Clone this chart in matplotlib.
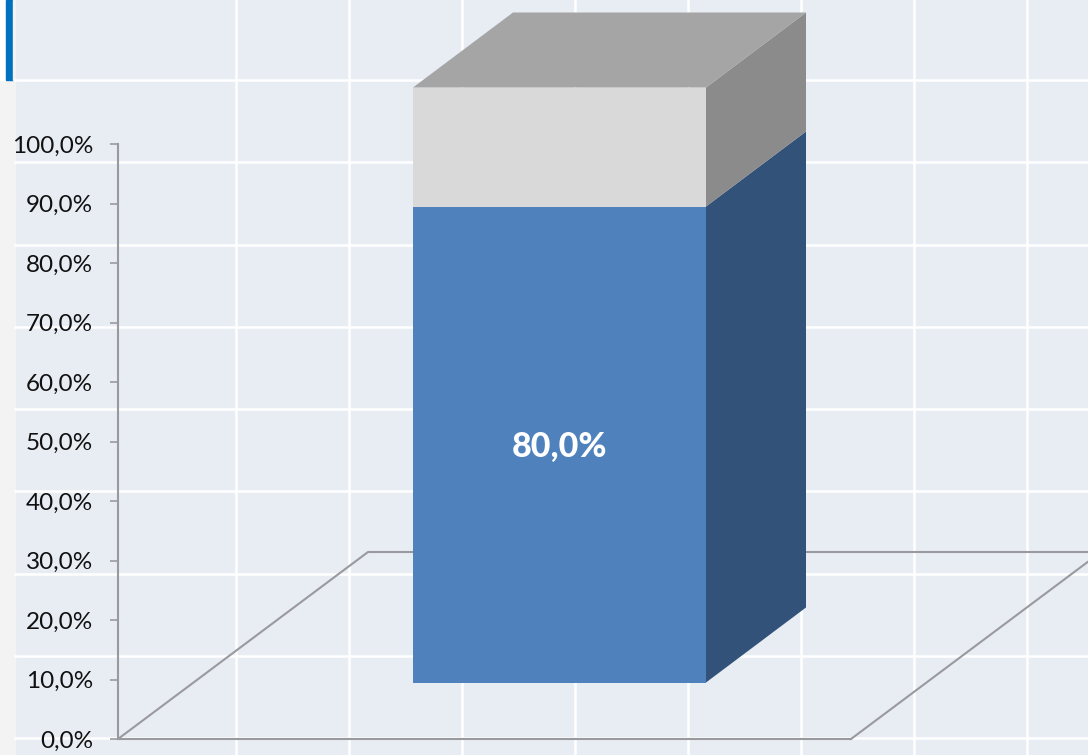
import matplotlib
matplotlib.use('Agg')
import matplotlib.pyplot as plt
from matplotlib.patches import Polygon, Rectangle

# values of the single stacked bar
share_blue = [80.0]
share_grey = [20.0]
tick_values = [0, 10, 20, 30, 40, 50, 60, 70, 80, 90, 100]
tick_labels = ['0,0%', '10,0%', '20,0%', '30,0%', '40,0%', '50,0%', '60,0%', '70,0%', '80,0%', '90,0%', '100,0%']

plt.rcParams['font.family'] = ['Lato', 'DejaVu Sans']

W, H = 1088, 755
PX = 5.95          # pixels per percent
Y0 = 739           # pixel row of 0%


def py(row):
    # pixel row to y axis value
    return (Y0 - row) / PX


fig = plt.figure(figsize=(W / 100, H / 100), dpi=100, facecolor='white')
ax = fig.add_axes([0, 0, 1, 1])
ax.set_xlim(0, W)
ax.set_ylim(py(H), py(0))
ax.set_facecolor('#E8EDF4')
ax.set_axisbelow(False)

# slide background
ax.add_patch(Rectangle((0, py(H)), 15, py(80) - py(H), color='#F3F3F3', zorder=1))
ax.add_patch(Rectangle((0, py(80)), 6, py(0) - py(80), color='white', zorder=1))
ax.add_patch(Rectangle((6, py(80)), 7, py(0) - py(80), color='#0070C0', zorder=1))
ax.add_patch(Rectangle((13, py(80)), 2, py(0) - py(80), color='#F3F3F3', zorder=1))

# white table lines behind the chart
for gx in [236, 349, 462, 575, 688, 801, 914, 1027]:
    ax.plot([gx, gx], [py(H), py(0)], color='white', lw=1.8, zorder=1.5)
for gy in [80, 162, 245, 327, 409, 491, 574, 656, 738]:
    ax.plot([15, W], [py(gy), py(gy)], color='white', lw=1.8, zorder=1.5)

# floor of the 3d chart
floor_color = '#9A9A9E'
ax.plot([851, 118, 368, 1101], [0, 0, py(552), py(552)], color=floor_color, lw=1.5, zorder=3)
ax.plot([851, 1101], [0, py(552)], color=floor_color, lw=1.5, zorder=3)

# 3d bar
left, right = 413, 706
dx, dy = 100, 75 / PX
base = py(682.5)
blue_top = base + share_blue[0]
grey_top = blue_top + share_grey[0]

ax.add_patch(Rectangle((left, base), right - left, share_blue[0], color='#4F81BD', lw=0, zorder=4))
ax.add_patch(Rectangle((left, blue_top), right - left, share_grey[0], color='#D9D9D9', lw=0, zorder=4))
ax.add_patch(Polygon([(right, base), (right + dx, base + dy), (right + dx, blue_top + dy), (right, blue_top)],
                     color='#325279', lw=0, zorder=4))
ax.add_patch(Polygon([(right, blue_top), (right + dx, blue_top + dy), (right + dx, grey_top + dy), (right, grey_top)],
                     color='#8B8B8B', lw=0, zorder=4))
ax.add_patch(Polygon([(left, grey_top), (right, grey_top), (right + dx, grey_top + dy), (left + dx, grey_top + dy)],
                     color='#A5A5A5', lw=0, zorder=4))

ax.text((left + right) / 2, base + share_blue[0] / 2 - 0.35, '80,0%', color='white', fontsize=24.5,
        fontweight='black', ha='center', va='center', zorder=5)

# value axis
for name in ['top', 'right', 'bottom']:
    ax.spines[name].set_visible(False)
ax.spines['left'].set_position(('data', 118))
ax.spines['left'].set_bounds(0, 100)
ax.spines['left'].set_color(floor_color)
ax.spines['left'].set_linewidth(1.5)
ax.spines['left'].set_zorder(3)
ax.set_xticks([])
ax.set_yticks(tick_values)
ax.set_yticklabels(tick_labels, fontsize=17.5, color='#111111')
ax.tick_params(axis='y', direction='out', length=6, width=1.2, color=floor_color, pad=12)

fig.savefig('out.png', dpi=100)
